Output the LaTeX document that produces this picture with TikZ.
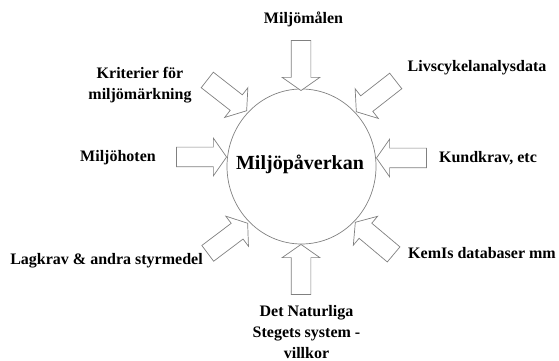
\documentclass[tikz,border=0pt]{standalone}
\usepackage{fontspec}
\setmainfont{Liberation Serif}
\usetikzlibrary{shapes.geometric,shapes.arrows}
\begin{document}
\begin{tikzpicture}[x=1pt,y=1pt,
 lbl/.style={font=\bfseries\fontsize{16}{21}\selectfont,align=center,inner sep=0pt},
 blk/.style={single arrow,draw=gray,fill=white,line width=0.7pt,minimum height=50pt,inner xsep=0pt,inner ysep=9.5pt,single arrow head extend=9pt,single arrow head indent=0pt,single arrow tip angle=110,anchor=tip}]
 \useasboundingbox (0,0) rectangle (559,361);
 \node[ellipse,draw=gray,line width=0.7pt,minimum width=149pt,minimum height=155pt,inner sep=0pt] (mp) at (301.5,194.5) {};
 \node[font=\bfseries\fontsize{20}{24}\selectfont,anchor=base,inner sep=0pt] (mptext) at (300,191) {Miljöpåverkan};
 % pilar in mot cirkeln
 \node[blk,rotate=-90] (a1) at (301,270) {};
 \node[blk,rotate=90] (a2) at (301,117) {};
 \node[blk] (a3) at (227,204) {};
 \node[blk,rotate=180] (a4) at (376,203) {};
 \node[blk,rotate=-38] (a5) at (247,250) {};
 \node[blk,rotate=218] (a6) at (356,249) {};
 \node[blk,rotate=37] (a7) at (248,138) {};
 \node[blk,rotate=140] (a8) at (355,139) {};
 % texter
 \node[lbl] (t1) at (303.5,342) {Miljömålen};
 \node[lbl] (t2) at (140,276) {Kriterier för\\miljömärkning};
 \node[lbl] (t3) at (118,203) {Miljöhoten};
 \node[lbl] (t4) at (477,293) {Livscykelanalysdata};
 \node[lbl] (t5) at (488,203) {Kundkrav, etc};
 \node[lbl] (t6) at (106.5,100) {Lagkrav \& andra styrmedel};
 \node[lbl] (t7) at (482,108) {KemIs databaser mm};
 \node[lbl] (t8) at (306.5,29) {Det Naturliga\\Stegets system -\\villkor};
\end{tikzpicture}
\end{document}
